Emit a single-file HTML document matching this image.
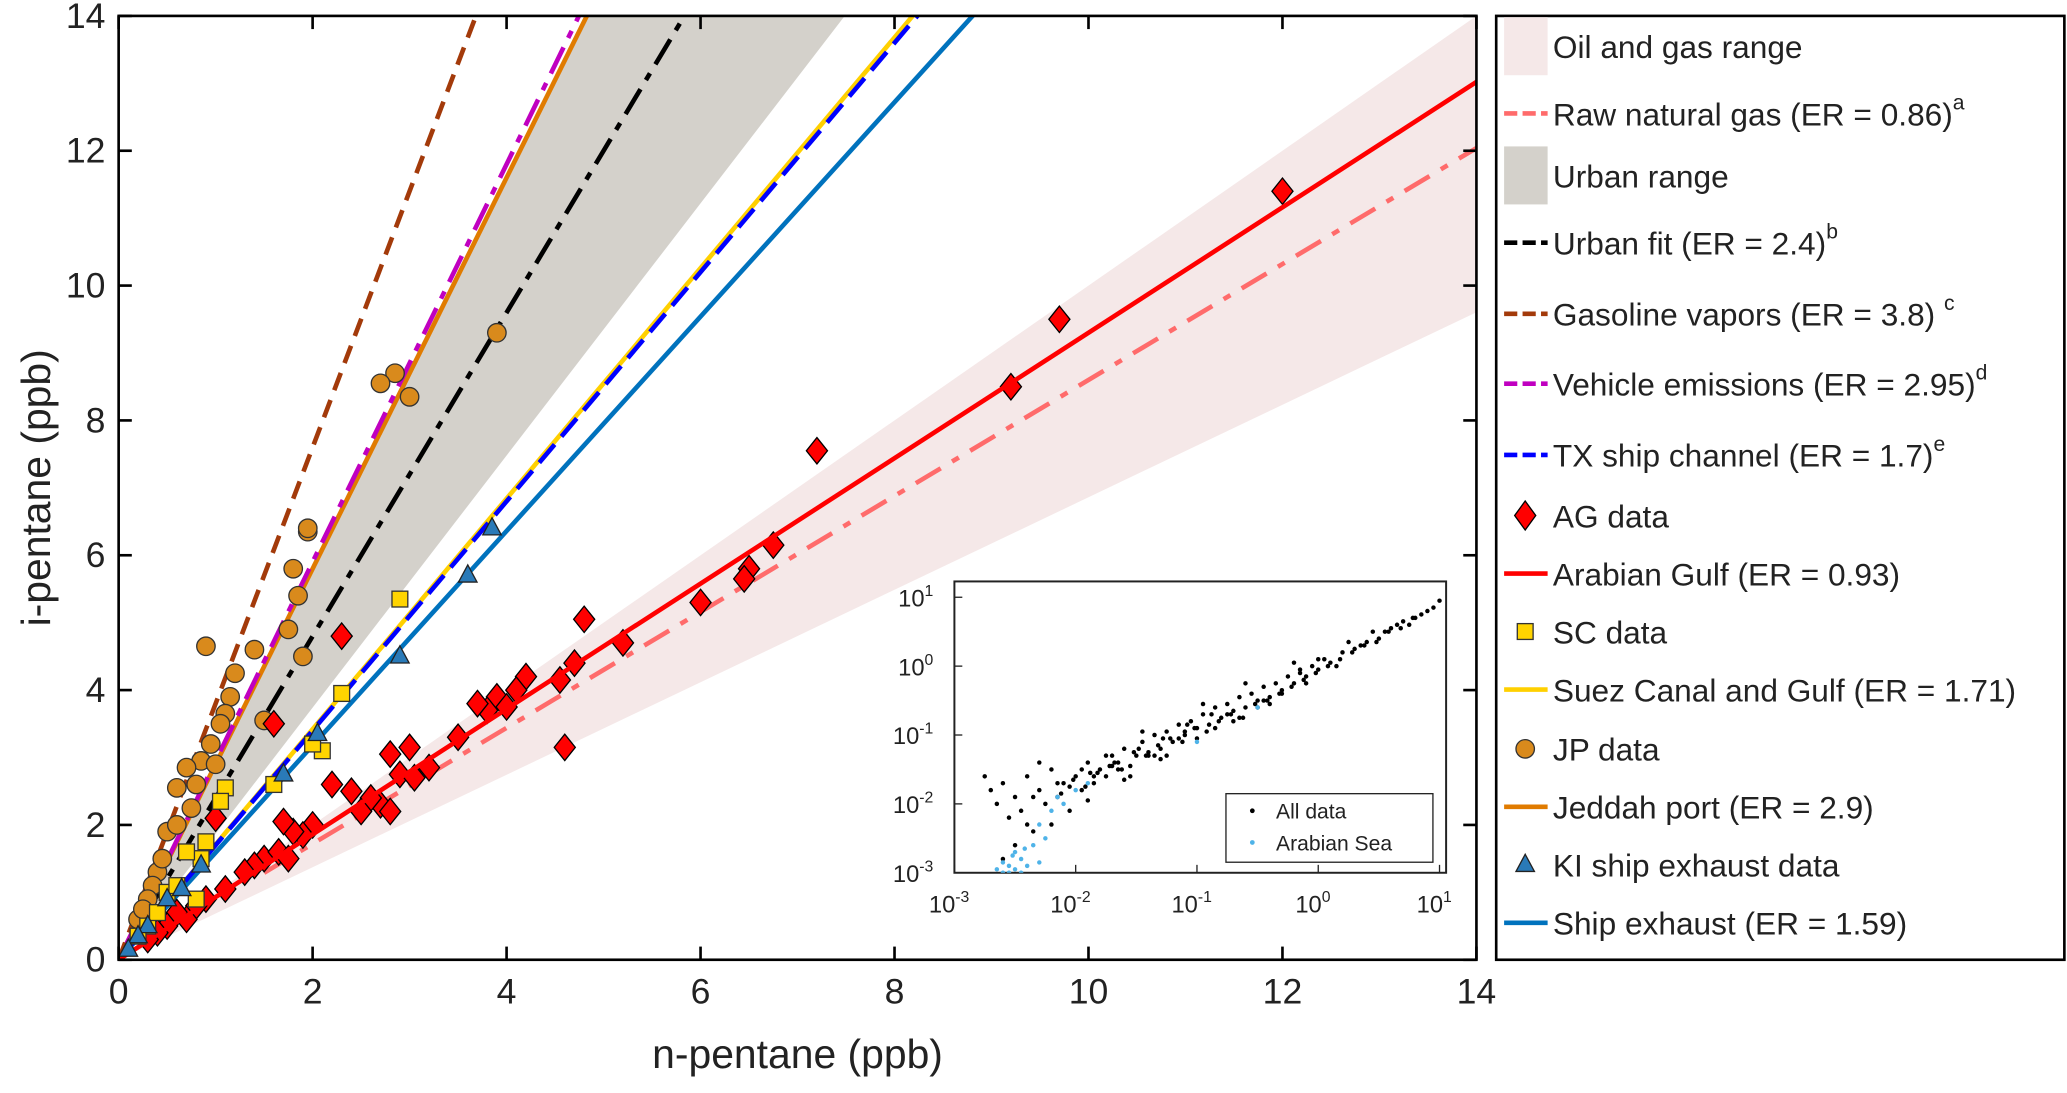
<!DOCTYPE html>
<html><head><meta charset="utf-8"><style>
html,body{margin:0;padding:0;background:#fff}
svg{display:block;font-family:"Liberation Sans",Arial,sans-serif}
</style></head><body>
<svg id="chart" width="2067" height="1093" viewBox="0 0 1568 829" xmlns="http://www.w3.org/2000/svg">
<defs><clipPath id="pc"><rect x="90" y="12" width="1030" height="716"/></clipPath>
<clipPath id="ic"><rect x="724" y="441" width="373" height="221"/></clipPath></defs>
<g id="main" clip-path="url(#pc)"></g>
<g id="axes"></g>
<g id="inset"></g>
<g id="legend"></g>
</svg>
<script>
const agX=[12,9.7,9.2,7.2,6.75,6.5,6.45,6,5.2,4.8,4.7,4.6,4.55,4.2,4.1,3.9,3.8,3.7,3.5,3.2,3.0,2.9,2.8,2.7,2.6,2.4,2.3,2.2,2.0,1.9,1.8,1.7,1.6,1.5,1.4,1.3,1.1,1.0,0.9,0.8,0.7,0.6,0.5,0.4,0.3,2.5,2.8,3.05,4.0,1.65,1.75];
const agY=[11.4,9.5,8.5,7.55,6.15,5.8,5.65,5.3,4.7,5.05,4.4,3.15,4.15,4.2,4.0,3.9,3.7,3.8,3.3,2.85,3.15,2.75,3.05,2.3,2.4,2.5,4.8,2.6,2.0,1.85,1.9,2.05,3.5,1.5,1.4,1.3,1.05,2.1,0.9,0.8,0.6,0.7,0.5,0.4,0.3,2.2,2.2,2.7,3.75,1.6,1.5];
const jpX=[3.9,2.85,2.7,3.0,1.95,1.9,1.8,1.85,1.75,1.4,1.5,1.2,1.15,1.1,0.9,0.95,0.85,0.8,0.7,0.6,0.5,0.4,0.35,0.6,0.75,1.0,0.3,0.2,1.95,1.05,0.25,0.45];
const jpY=[9.3,8.7,8.55,8.35,6.35,4.5,5.8,5.4,4.9,4.6,3.55,4.25,3.9,3.65,4.65,3.2,2.95,2.6,2.85,2.55,1.9,1.3,1.1,2.0,2.25,2.9,0.9,0.6,6.4,3.5,0.75,1.5];
const scX=[2.9,2.3,2.1,1.6,1.1,1.05,0.9,0.85,0.7,0.5,0.3,0.8,0.4,2.0,0.6,0.2];
const scY=[5.35,3.95,3.1,2.6,2.55,2.35,1.75,1.5,1.6,1.0,0.5,0.9,0.7,3.2,1.1,0.35];
const kiX=[3.85,3.6,2.9,2.05,1.7,0.85,0.5,0.3,0.2,0.1,0.65];
const kiY=[6.4,5.7,4.5,3.35,2.75,1.4,0.9,0.5,0.35,0.15,1.05];
const fitNames=["raw-natural-gas","urban-fit","gasoline-vapors","vehicle-emissions","jeddah-port","suez-canal","tx-ship-channel","ship-exhaust","arabian-gulf"];
const fitER=[0.86,2.4,3.8,2.95,2.9,1.71,1.7,1.59,0.93];
const oilRange=[0.686,1.0];
const urbanRange=[1.87,2.9];
const xTicks=[0,2,4,6,8,10,12,14];
const yTicks=[0,2,4,6,8,10,12,14];
const inAllX=[-2.7,-2.65,-2.6,-2.55,-2.5,-2.45,-2.4,-2.35,-2.3,-2.25,-2.2,-2.15,-2.1,-2.05,-2.0,-1.95,-1.9,-1.85,-1.8,-1.75,-1.7,-1.65,-1.6,-1.55,-1.5,-1.45,-1.4,-1.35,-1.3,-1.25,-1.2,-1.15,-1.1,-1.05,-1.0,-0.95,-0.9,-0.85,-0.8,-0.75,-0.7,-0.65,-0.6,-0.55,-0.5,-0.45,-0.4,-0.35,-0.3,-0.25,-0.2,-0.15,-0.1,-0.05,0.0,0.05,0.1,0.2,0.3,0.4,0.5,0.6,0.7,0.8,0.9,1.0,-2.6,-2.5,-2.4,-2.2,-1.9,-1.6,-1.3,-1.0,-0.7,-0.4,-0.1,0.15,-2.75,-2.3,-1.75,-1.45,-0.95,-0.6,-0.2,0.25,-2.35,-2.05,-1.85,-1.65,-1.55,-1.35,-1.15,-1.25,-0.85,-0.75,-0.5,-0.3,0.0,0.35,0.55,0.75,0.95,-2.15,-1.95,-1.7,-1.4,-1.1,-0.65,-0.45,-0.15,0.45,0.65,0.85,-2.12,-2.02,-1.92,-1.82,-1.72,-1.62,-1.52,-1.42,-1.32,-1.22,-1.12,-1.02,-0.92,-0.82,-0.72,-0.62,-0.52,-0.42,-0.32,-0.22,-0.12,-0.02,0.08,0.18,0.28,0.38,0.48,0.58,0.68,0.78,-1.88,-1.68,-1.48,-1.28,-1.08,-0.88];
const inAllY=[-1.8,-2.0,-1.7,-2.2,-1.9,-2.1,-1.6,-2.4,-1.8,-2.0,-1.5,-1.9,-1.7,-2.1,-1.6,-1.8,-1.4,-1.7,-1.5,-1.6,-1.3,-1.5,-1.2,-1.45,-1.3,-1.1,-1.25,-1.0,-1.2,-0.95,-1.1,-0.85,-1.0,-0.8,-0.9,-0.7,-0.85,-0.6,-0.75,-0.55,-0.65,-0.45,-0.6,-0.4,-0.5,-0.3,-0.45,-0.25,-0.35,-0.15,-0.25,-0.05,-0.15,0.0,-0.05,0.1,0.05,0.2,0.25,0.35,0.4,0.55,0.65,0.7,0.8,0.95,-2.8,-2.6,-2.3,-2.3,-1.95,-1.65,-1.35,-1.05,-0.8,-0.55,-0.25,0.0,-1.6,-1.4,-1.3,-0.95,-0.55,-0.25,0.05,0.35,-1.9,-1.75,-1.6,-1.4,-1.6,-1.3,-1.05,-1.3,-0.9,-0.7,-0.6,-0.4,0.1,0.3,0.5,0.6,0.85,-1.7,-1.5,-1.45,-1.3,-0.95,-0.75,-0.5,-0.1,0.5,0.6,0.75,-1.85,-1.65,-1.75,-1.55,-1.45,-1.5,-1.25,-1.3,-1.15,-1.05,-1.1,-0.9,-0.95,-0.8,-0.7,-0.75,-0.55,-0.5,-0.4,-0.3,-0.2,-0.1,0.0,0.1,0.2,0.3,0.35,0.5,0.55,0.7,-1.55,-1.4,-1.2,-1.05,-0.85,-0.7];
const inSeaX=[-2.6,-2.55,-2.5,-2.45,-2.6,-2.55,-2.5,-2.4,-2.35,-2.3,-2.25,-2.2,-2.15,-2.1,-2.0,-1.9,-2.65,-2.45,-2.3,-1.0,-0.5,-2.52,-2.42];
const inSeaY=[-3.0,-2.9,-2.95,-2.8,-2.85,-3.0,-2.7,-2.9,-2.6,-2.3,-2.5,-2.1,-1.9,-2.0,-1.8,-1.7,-2.95,-3.0,-2.85,-1.1,-0.6,-2.75,-2.65];
const inTickLabels=["-3","-2","-1","0","1"];

const NS="http://www.w3.org/2000/svg";
function mk(p,t,a){const e=document.createElementNS(NS,t);for(const k in a)e.setAttribute(k,a[k]);p.appendChild(e);return e;}
const X=v=>90+v*1030/14, Y=v=>728-v*716/14;
const main=document.getElementById('main'),axes=document.getElementById('axes'),inset=document.getElementById('inset'),leg=document.getElementById('legend');

function wedge(s,fill,name){const p=mk(main,'polygon',{points:`${X(0)},${Y(0)} ${X(30)},${Y(30*s[0])} ${X(30)},${Y(30*s[1])}`,fill:fill});
}
wedge(oilRange,'#f5e8e8','oil-gas-range');
wedge(urbanRange,'#d4d1cb','urban-range');

const st={"raw-natural-gas":['#ff6b6b','22,10,6,10',1.5],"urban-fit":['#000','22,8,6,8',0],"gasoline-vapors":['#a33a0a','14,8',0],"vehicle-emissions":['#c000c0','22,8,6,8',0],"jeddah-port":['#e07b00','',0],"suez-canal":['#ffd000','',0],"tx-ship-channel":['#0000ff','18,8',0],"ship-exhaust":['#0072bd','',0],"arabian-gulf":['#ff0000','',0]};
function line(i){const n=fitNames[i],s=st[n],x0=s[2];
const l=mk(main,'line',{x1:X(x0),y1:Y(x0*fitER[i]),x2:X(20),y2:Y(20*fitER[i]),stroke:s[0],'stroke-width':3.5,'stroke-dasharray':s[1]});
}
[4,5,7,1,3,2,0].forEach(line);
line(6);

function pts(xs,ys,kind,name){for(let i=0;i<xs.length;i++){const cx=X(xs[i]),cy=Y(ys[i]);let e;
if(kind==='d')e=mk(main,'polygon',{points:`${cx},${cy-10} ${cx+8},${cy} ${cx},${cy+10} ${cx-8},${cy}`,fill:'#ff0000',stroke:'#000','stroke-width':1});
else if(kind==='c')e=mk(main,'circle',{cx:cx,cy:cy,r:7,fill:'#d98a1c',stroke:'#333','stroke-width':1});
else if(kind==='s')e=mk(main,'rect',{x:cx-6,y:cy-6,width:12,height:12,fill:'#ffd400',stroke:'#333','stroke-width':1});
else e=mk(main,'polygon',{points:`${cx},${cy-8} ${cx+7},${cy+5} ${cx-7},${cy+5}`,fill:'#2a7ab8',stroke:'#222','stroke-width':1});
}}
pts(jpX,jpY,'c','jp-point');
pts(agX,agY,'d','ag-point');
line(8);
pts(scX,scY,'s','sc-point');
pts(kiX,kiY,'t','ki-point');

mk(axes,'rect',{x:90,y:12,width:1030,height:716,fill:'none',stroke:'#000','stroke-width':2});
xTicks.forEach(v=>{mk(axes,'line',{x1:X(v),y1:728,x2:X(v),y2:718,stroke:'#000','stroke-width':2});mk(axes,'line',{x1:X(v),y1:12,x2:X(v),y2:22,stroke:'#000','stroke-width':2});
const t=mk(axes,'text',{x:X(v),y:761,'font-size':27,'text-anchor':'middle',fill:'#222'});t.textContent=v;
});
yTicks.forEach(v=>{mk(axes,'line',{x1:90,y1:Y(v),x2:100,y2:Y(v),stroke:'#000','stroke-width':2});mk(axes,'line',{x1:1120,y1:Y(v),x2:1110,y2:Y(v),stroke:'#000','stroke-width':2});
const t=mk(axes,'text',{x:80,y:Y(v)+9,'font-size':27,'text-anchor':'end',fill:'#222'});t.textContent=v;
});
let t=mk(axes,'text',{x:605,y:810,'font-size':31,'text-anchor':'middle',fill:'#222'});t.textContent='n-pentane (ppb)';

t=mk(axes,'text',{x:38,y:370,'font-size':31,'text-anchor':'middle',fill:'#222',transform:'rotate(-90 38 370)'});t.textContent='i-pentane (ppb)';


const IX=v=>724+(v+3)*92, IY=v=>662-(v+3)*52.25;
mk(inset,'rect',{x:724,y:441,width:373,height:221,fill:'#fff',stroke:'#222','stroke-width':1.5});
const ig=mk(inset,'g',{'clip-path':'url(#ic)'});
for(let i=0;i<inAllX.length;i++){const c=mk(ig,'circle',{cx:IX(inAllX[i]),cy:IY(inAllY[i]),r:1.7,fill:'#000'});
}
for(let i=0;i<inSeaX.length;i++){const c=mk(ig,'circle',{cx:IX(inSeaX[i]),cy:IY(inSeaY[i]),r:1.7,fill:'#4fb3e8'});
}
inTickLabels.forEach(s=>{const v=+s;
mk(inset,'line',{x1:IX(v),y1:662,x2:IX(v),y2:656,stroke:'#222'});mk(inset,'line',{x1:724,y1:IY(v),x2:730,y2:IY(v),stroke:'#222'});
let a=mk(inset,'text',{x:IX(v)-4,y:692,'font-size':18,'text-anchor':'middle',fill:'#222'});a.innerHTML='10<tspan dy="-8" font-size="12">'+s+'</tspan>';

a=mk(inset,'text',{x:708,y:IY(v)+7,'font-size':18,'text-anchor':'end',fill:'#222'});a.innerHTML='10<tspan dy="-8" font-size="12">'+s+'</tspan>';
});
const ilg=mk(inset,'g',{});
mk(ilg,'rect',{x:930,y:602,width:157,height:52,fill:'#fff',stroke:'#222'});
mk(ilg,'circle',{cx:950,cy:615,r:1.8,fill:'#000'});mk(ilg,'circle',{cx:950,cy:639,r:1.8,fill:'#4fb3e8'});
t=mk(ilg,'text',{x:968,y:621,'font-size':16,fill:'#222'});t.textContent='All data';
t=mk(ilg,'text',{x:968,y:645,'font-size':16,fill:'#222'});t.textContent='Arabian Sea';

mk(leg,'rect',{x:1135,y:12,width:431,height:716,fill:'#fff',stroke:'#000','stroke-width':2});
const items=[
['oil-gas-range','Oil and gas range','',35,'patch','#f5e8e8'],
['raw-natural-gas','Raw natural gas (ER = 0.86)','a',86,'line','raw-natural-gas'],
['urban-range','Urban range','',133,'patch','#d4d1cb'],
['urban-fit','Urban fit (ER = 2.4)','b',184,'line','urban-fit'],
['gasoline-vapors','Gasoline vapors (ER = 3.8) ','c',238,'line','gasoline-vapors'],
['vehicle-emissions','Vehicle emissions (ER = 2.95)','d',291,'line','vehicle-emissions'],
['tx-ship-channel','TX ship channel (ER = 1.7)','e',345,'line','tx-ship-channel'],
['ag-data','AG data','',391,'d'],
['arabian-gulf','Arabian Gulf (ER = 0.93)','',435,'line','arabian-gulf'],
['sc-data','SC data','',479,'s'],
['suez-canal','Suez Canal and Gulf (ER = 1.71)','',523,'line','suez-canal'],
['jp-data','JP data','',568,'c'],
['jeddah-port','Jeddah port (ER = 2.9)','',612,'line','jeddah-port'],
['ki-data','KI ship exhaust data','',656,'t'],
['ship-exhaust','Ship exhaust (ER = 1.59)','',700,'line','ship-exhaust']];
items.forEach(it=>{const g=mk(leg,'g',{});
const y=it[3],cx=1157;
if(it[4]==='patch')mk(g,'rect',{x:1141,y:y-22,width:33,height:44,fill:it[5]});
else if(it[4]==='line'){const s=st[it[5]];mk(g,'line',{x1:1141,y1:y,x2:1174,y2:y,stroke:s[0],'stroke-width':3.5,'stroke-dasharray':s[1]?'10,4':''});}
else if(it[4]==='d')mk(g,'polygon',{points:`${cx},${y-11} ${cx+8},${y} ${cx},${y+11} ${cx-8},${y}`,fill:'#ff0000',stroke:'#000'});
else if(it[4]==='s')mk(g,'rect',{x:cx-6,y:y-6,width:12,height:12,fill:'#ffd400',stroke:'#333'});
else if(it[4]==='c')mk(g,'circle',{cx:cx,cy:y,r:7,fill:'#d98a1c',stroke:'#333'});
else mk(g,'polygon',{points:`${cx},${y-8} ${cx+7},${y+5} ${cx-7},${y+5}`,fill:'#2a7ab8',stroke:'#222'});
const tx=mk(g,'text',{x:1178,y:y+9,'font-size':24,fill:'#222'});
tx.innerHTML=it[1]+(it[2]?'<tspan dy="-12" font-size="16">'+it[2]+'</tspan>':'');});
</script>
</body></html>
